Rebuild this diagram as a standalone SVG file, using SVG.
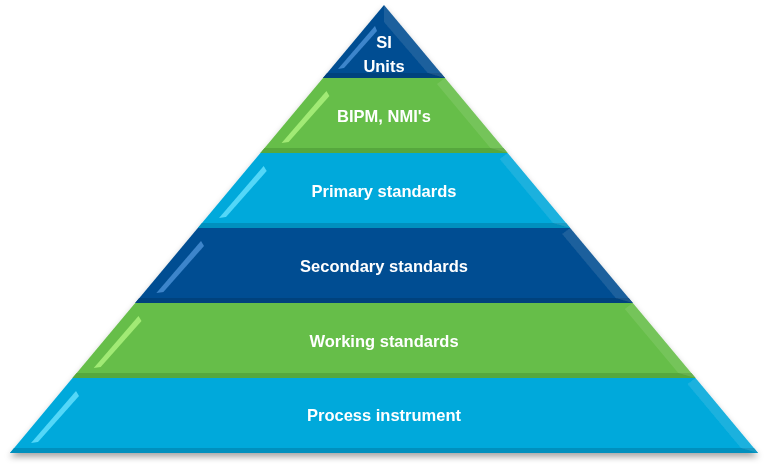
<svg xmlns="http://www.w3.org/2000/svg" width="768" height="468" viewBox="0 0 768 468">
<defs>
<filter id="shadow" x="-5%" y="-5%" width="110%" height="115%">
<feDropShadow dx="0" dy="4" stdDeviation="3" flood-color="#000" flood-opacity="0.35"/>
</filter>
<style>
.lb{fill:#00A9DB}.lbb{fill:#0090BE}.lbs{fill:#66E2FF;fill-opacity:0.8}
.gr{fill:#66BE48}.grb{fill:#56A83D}.grs{fill:#B0F57F;fill-opacity:0.8}
.db{fill:#034E92}.dbb{fill:#02427D}.dbs{fill:#4B94DA;fill-opacity:0.8}
.band{fill:#fff;fill-opacity:0.1}
.t{font-family:"Liberation Sans",Arial,sans-serif;font-weight:bold;font-size:16.5px;fill:#fff;text-anchor:middle}
</style>
</defs>
<rect width="768" height="468" fill="#fff"/>
<g id="pyramid" filter="url(#shadow)">
<g id="process-instrument">
<polygon class="lb" points="72.5,378 695.5,378 758,453 10,453"/>
<polygon class="lbb" points="14.1,448 753.9,448 758,453 10,453"/>
<polygon class="band" points="695.5,378 758,453 740.9,448 687.5,384"/>
<polygon class="lbs" points="76,391 79,396 38,442 31,443"/>
<text class="t" x="384" y="421">Process instrument</text>
</g>
<g id="working-standards">
<polygon class="gr" points="135.2,303 632.8,303 695.5,378 72.5,378"/>
<polygon class="grb" points="76.7,373 691.3,373 695.5,378 72.5,378"/>
<polygon class="band" points="632.8,303 695.5,378 678.3,373 624.8,309"/>
<polygon class="grs" points="138.5,316 141.5,321 100.7,367 93.7,368"/>
<text class="t" x="384" y="347">Working standards</text>
</g>
<g id="secondary-standards">
<polygon class="db" points="197.8,228 570.2,228 632.8,303 135.2,303"/>
<polygon class="dbb" points="139.3,298 628.7,298 632.8,303 135.2,303"/>
<polygon class="band" points="570.2,228 632.8,303 615.7,298 562.2,234"/>
<polygon class="dbs" points="201,241 204,246 163.4,292 156.4,293"/>
<text class="t" x="384" y="272">Secondary standards</text>
</g>
<g id="primary-standards">
<polygon class="lb" points="260.4,153 507.6,153 570.2,228 197.8,228"/>
<polygon class="lbb" points="202,223 566,223 570.2,228 197.8,228"/>
<polygon class="band" points="507.6,153 570.2,228 553,223 499.6,159"/>
<polygon class="lbs" points="263.7,166 266.7,171 226,217 219,218"/>
<text class="t" x="384" y="197">Primary standards</text>
</g>
<g id="bipm-nmis">
<polygon class="gr" points="323,78 445,78 507.6,153 260.4,153"/>
<polygon class="grb" points="264.6,148 503.4,148 507.6,153 260.4,153"/>
<polygon class="band" points="445,78 507.6,153 490.4,148 437,84"/>
<polygon class="grs" points="326.4,91 329.4,96 288.6,142 281.6,143"/>
<text class="t" x="384" y="122">BIPM, NMI's</text>
</g>
<g id="si-units">
<polygon class="db" points="384,5 445,78 323,78"/>
<polygon class="dbb" points="327.2,73 440.8,73 445,78 323,78"/>
<polygon class="band" points="384,5 445,78 427.8,73 384,22"/>
<polygon class="dbs" points="375,26 377,31 344,68 338,69"/>
<text class="t" x="384" y="48">SI</text>
<text class="t" x="384" y="72">Units</text>
</g>
</g>
<g id="connectors"/>
</svg>
